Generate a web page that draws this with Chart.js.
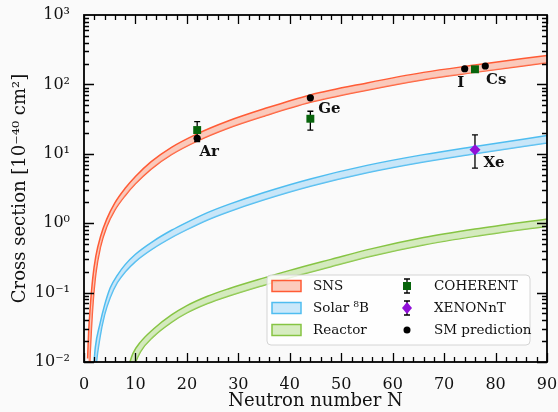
<!DOCTYPE html>
<html>
<head>
<meta charset="utf-8">
<script src="https://cdn.jsdelivr.net/npm/chart.js@4.4.1/dist/chart.umd.min.js"></script>
<style>
  html, body { margin: 0; padding: 0; background: #fafafa; }
</style>
</head>
<body>
<canvas id="xsec" width="558" height="412"></canvas>
<script>
// band edges: neutron number vs cross section [1e-40 cm^2]
const snsN   = [0.7, 0.9, 1.2, 1.7, 2.3, 3.2, 4.4, 6, 8, 10, 13, 17, 22, 28, 35, 44, 55, 66, 76, 90];
const snsHi  = [0.0112, 0.027, 0.060, 0.162, 0.335, 0.638, 1.135, 1.96, 3.18, 4.71, 7.64, 12.4, 19.4, 29.7, 44.5, 70.5, 105, 149, 190, 262];
const snsLo  = [0.0014, 0.0037, 0.0132, 0.0617, 0.188, 0.452, 0.881, 1.54, 2.49, 3.69, 5.98, 9.70, 15.2, 23.3, 34.8, 55.2, 82.6, 117, 149, 205];

const solarN  = [1.8, 2.2, 3.1, 4.0, 5.1, 6.5, 8, 10, 13.5, 17, 20, 24, 28, 35, 44, 55, 66, 76, 90];
const solarHi = [0.0071, 0.0162, 0.0355, 0.066, 0.1175, 0.179, 0.253, 0.357, 0.553, 0.791, 1.030, 1.422, 1.854, 2.773, 4.345, 6.808, 9.727, 12.76, 18.32];
const solarLo = [0.0014, 0.0062, 0.0224, 0.0479, 0.0851, 0.140, 0.198, 0.280, 0.434, 0.619, 0.807, 1.114, 1.452, 2.173, 3.404, 5.333, 7.621, 10.0, 14.35];

const reactorN  = [8.5, 9.5, 11, 13.5, 17, 20, 24, 28, 35, 40, 48, 56, 66, 76, 90];
const reactorHi = [0.0079, 0.0132, 0.0195, 0.0299, 0.0476, 0.065, 0.0887, 0.113, 0.163, 0.209, 0.301, 0.43, 0.621, 0.824, 1.153];
const reactorLo = [0.0032, 0.0076, 0.0141, 0.0232, 0.0373, 0.0509, 0.0695, 0.0885, 0.128, 0.164, 0.236, 0.337, 0.486, 0.646, 0.904];

// measurements
const cohN   = [22, 44, 76];
const cohVal = [22, 32, 165];
const cohLo  = [15, 22, 150];
const cohHi  = [29, 41, 180];

const xenN   = [76];
const xenVal = [11.4];
const xenLo  = [6.2];
const xenHi  = [18.7];

// SM predictions (Ar, Ge, I, Cs)
const smN   = [22, 44, 74, 78];
const smVal = [16.7, 64, 168, 184];

const xTicks = [0, 10, 20, 30, 40, 50, 60, 70, 80, 90];

const SERIF = "'DejaVu Serif', serif";
const SUP = {'-': '⁻', '0': '⁰', '1': '¹', '2': '²', '3': '³', '4': '⁴', '5': '⁵', '6': '⁶', '7': '⁷', '8': '⁸', '9': '⁹'};
const sup = n => String(n).split('').map(c => SUP[c]).join('');

const pts = (xs, ys) => xs.map((x, i) => ({x, y: ys[i]}));

const bands = [
  {name: 'SNS', n: snsN, hi: snsHi, lo: snsLo, edge: '#ff5b35', fill: 'rgba(250,160,135,0.55)'},
  {name: 'Solar', n: solarN, hi: solarHi, lo: solarLo, edge: '#4fbdf0', fill: 'rgba(150,210,245,0.5)'},
  {name: 'Reactor', n: reactorN, hi: reactorHi, lo: reactorLo, edge: '#86c443', fill: 'rgba(180,220,140,0.55)'}
];

const datasets = [
  {label: 'SM prediction', type: 'scatter', data: pts(smN, smVal), order: 0,
   pointStyle: 'circle', pointRadius: 3.6, backgroundColor: '#000', borderColor: '#000', borderWidth: 0},
  {label: 'COHERENT', type: 'scatter', data: pts(cohN, cohVal), order: 1,
   pointStyle: 'rect', pointRadius: 5.6, backgroundColor: '#08640c', borderColor: '#08640c', borderWidth: 0},
  {label: 'XENONnT', type: 'scatter', data: pts(xenN, xenVal), order: 2,
   pointStyle: 'rectRot', pointRadius: 5.5, backgroundColor: '#9110d8', borderColor: '#9110d8', borderWidth: 0}
];
bands.forEach(b => {
  const loIdx = datasets.length + 1;
  datasets.push({label: b.name + ' hi', type: 'line', data: pts(b.n, b.hi), order: 5,
    borderColor: b.edge, borderWidth: 1.5, pointRadius: 0, cubicInterpolationMode: 'monotone',
    fill: {target: loIdx}, backgroundColor: b.fill, clip: 0});
  datasets.push({label: b.name + ' lo', type: 'line', data: pts(b.n, b.lo), order: 5,
    borderColor: b.edge, borderWidth: 1.5, pointRadius: 0, cubicInterpolationMode: 'monotone',
    fill: false, clip: 0});
});

function errorBars(ctx, chart, xs, lo, hi) {
  const sx = chart.scales.x, sy = chart.scales.y;
  ctx.save();
  ctx.strokeStyle = '#000';
  ctx.lineWidth = 1.3;
  xs.forEach((n, i) => {
    const px = sx.getPixelForValue(n);
    const y0 = sy.getPixelForValue(lo[i]), y1 = sy.getPixelForValue(hi[i]);
    ctx.beginPath();
    ctx.moveTo(px, y0); ctx.lineTo(px, y1);
    ctx.moveTo(px - 3, y0); ctx.lineTo(px + 3, y0);
    ctx.moveTo(px - 3, y1); ctx.lineTo(px + 3, y1);
    ctx.stroke();
  });
  ctx.restore();
}

const errorBarPlugin = {
  id: 'errorBars',
  beforeDatasetDraw(chart, args) {
    const ctx = chart.ctx;
    if (args.index === 1) errorBars(ctx, chart, cohN, cohLo, cohHi);
    if (args.index === 2) errorBars(ctx, chart, xenN, xenLo, xenHi);
  }
};

// nucleus names next to the predictions
const nucleusLabels = [
  {text: 'Ar', n: smN[0], v: smVal[0], dx: 12, dy: 14},
  {text: 'Ge', n: smN[1], v: smVal[1], dx: 19, dy: 11},
  {text: 'I',  n: smN[2], v: smVal[2], dx: -4, dy: 14},
  {text: 'Cs', n: smN[3], v: smVal[3], dx: 11, dy: 14},
  {text: 'Xe', n: xenN[0], v: xenVal[0], dx: 19, dy: 13}
];

const annotatePlugin = {
  id: 'annotate',
  afterDatasetsDraw(chart) {
    const {ctx, scales: {x, y}} = chart;
    ctx.save();
    ctx.fillStyle = '#111';
    ctx.font = 'bold 15px ' + SERIF;
    ctx.textAlign = 'center';
    ctx.textBaseline = 'middle';
    nucleusLabels.forEach(l => {
      ctx.fillText(l.text, x.getPixelForValue(l.n) + l.dx, y.getPixelForValue(l.v) + l.dy);
    });
    ctx.restore();

    // legend
    const bx = 267, by = 275, bw = 263, bh = 70;
    ctx.save();
    ctx.beginPath();
    ctx.roundRect(bx, by, bw, bh, 4);
    ctx.fillStyle = 'rgba(255,255,255,0.82)';
    ctx.fill();
    ctx.strokeStyle = '#d4d4d4';
    ctx.lineWidth = 1;
    ctx.stroke();
    ctx.font = '13.5px ' + SERIF;
    ctx.textBaseline = 'middle';
    ctx.textAlign = 'left';
    const names = ['SNS', 'Solar ⁸B', 'Reactor'];
    bands.forEach((b, i) => {
      const ry = by + 11 + i * 22;
      ctx.fillStyle = b.fill;
      ctx.fillRect(272, ry - 5.5, 29, 11);
      ctx.strokeStyle = b.edge;
      ctx.lineWidth = 1.5;
      ctx.strokeRect(272, ry - 5.5, 29, 11);
      ctx.fillStyle = '#111';
      ctx.fillText(names[i], 313, ry);
    });
    const mx = 407;
    const rows = [by + 11, by + 33, by + 55];
    [rows[0], rows[1]].forEach(ry => {
      ctx.strokeStyle = '#000';
      ctx.lineWidth = 1.3;
      ctx.beginPath();
      ctx.moveTo(mx, ry - 7); ctx.lineTo(mx, ry + 7);
      ctx.moveTo(mx - 3, ry - 7); ctx.lineTo(mx + 3, ry - 7);
      ctx.moveTo(mx - 3, ry + 7); ctx.lineTo(mx + 3, ry + 7);
      ctx.stroke();
    });
    ctx.fillStyle = '#08640c';
    ctx.fillRect(mx - 4, rows[0] - 4, 8, 8);
    ctx.fillStyle = '#9110d8';
    ctx.beginPath();
    ctx.moveTo(mx, rows[1] - 6); ctx.lineTo(mx + 5, rows[1]);
    ctx.lineTo(mx, rows[1] + 6); ctx.lineTo(mx - 5, rows[1]);
    ctx.closePath(); ctx.fill();
    ctx.fillStyle = '#000';
    ctx.beginPath(); ctx.arc(mx, rows[2], 3.5, 0, 2 * Math.PI); ctx.fill();
    ctx.fillStyle = '#111';
    ['COHERENT', 'XENONnT', 'SM prediction'].forEach((t, i) => ctx.fillText(t, 434, rows[i]));
    ctx.restore();
  }
};

// frame with inward ticks on all four sides
const framePlugin = {
  id: 'frame',
  afterDraw(chart) {
    const {ctx, chartArea: a, scales: {x, y}} = chart;
    ctx.save();
    ctx.strokeStyle = '#000';
    ctx.lineWidth = 1.3;
    ctx.beginPath();
    for (let n = 0; n <= 90; n += 2) {
      const px = Math.round(x.getPixelForValue(n)) + 0.5;
      const len = n % 10 === 0 ? 9 : 5;
      ctx.moveTo(px, a.bottom); ctx.lineTo(px, a.bottom - len);
      ctx.moveTo(px, a.top); ctx.lineTo(px, a.top + len);
    }
    for (let e = -2; e <= 2; e++) {
      for (let m = 1; m <= 9; m++) {
        const py = Math.round(y.getPixelForValue(m * Math.pow(10, e))) + 0.5;
        const len = m === 1 ? 10 : 5;
        ctx.moveTo(a.left, py); ctx.lineTo(a.left + len, py);
        ctx.moveTo(a.right, py); ctx.lineTo(a.right - len, py);
      }
    }
    ctx.stroke();
    ctx.lineWidth = 1.8;
    ctx.strokeRect(a.left, a.top, a.right - a.left, a.bottom - a.top);
    ctx.restore();
  }
};

new Chart(document.getElementById('xsec'), {
  data: {datasets},
  options: {
    responsive: false,
    animation: false,
    devicePixelRatio: 1,
    layout: {padding: {top: 15, right: 11, left: 0, bottom: 0}},
    plugins: {legend: {display: false}, tooltip: {enabled: false}},
    scales: {
      x: {
        type: 'linear', min: 0, max: 90,
        afterBuildTicks: s => { s.ticks = xTicks.map(v => ({value: v})); },
        afterFit: s => { s.height = 50; s.paddingLeft = 0; s.paddingRight = 0; },
        grid: {display: false},
        border: {display: false},
        ticks: {font: {family: SERIF, size: 16}, color: '#111', padding: 5, maxRotation: 0},
        title: {display: true, text: 'Neutron number N', font: {family: SERIF, size: 18},
                color: '#111', padding: {top: 0, bottom: 0}}
      },
      y: {
        type: 'logarithmic', min: 0.01, max: 1000,
        afterFit: s => { s.width = 84; s.paddingTop = 0; s.paddingBottom = 0; },
        grid: {display: false},
        border: {display: false},
        ticks: {
          font: {family: SERIF, size: 16}, color: '#111', padding: 6, autoSkip: false,
          callback: v => {
            const e = Math.log10(v);
            return Math.abs(e - Math.round(e)) < 1e-6 ? '10' + sup(Math.round(e)) : '';
          }
        },
        title: {display: true, text: 'Cross section [10⁻⁴⁰ cm²]', font: {family: SERIF, size: 18},
                color: '#111', padding: {top: 10, bottom: 0}}
      }
    }
  },
  plugins: [errorBarPlugin, annotatePlugin, framePlugin]
});
</script>
</body>
</html>
